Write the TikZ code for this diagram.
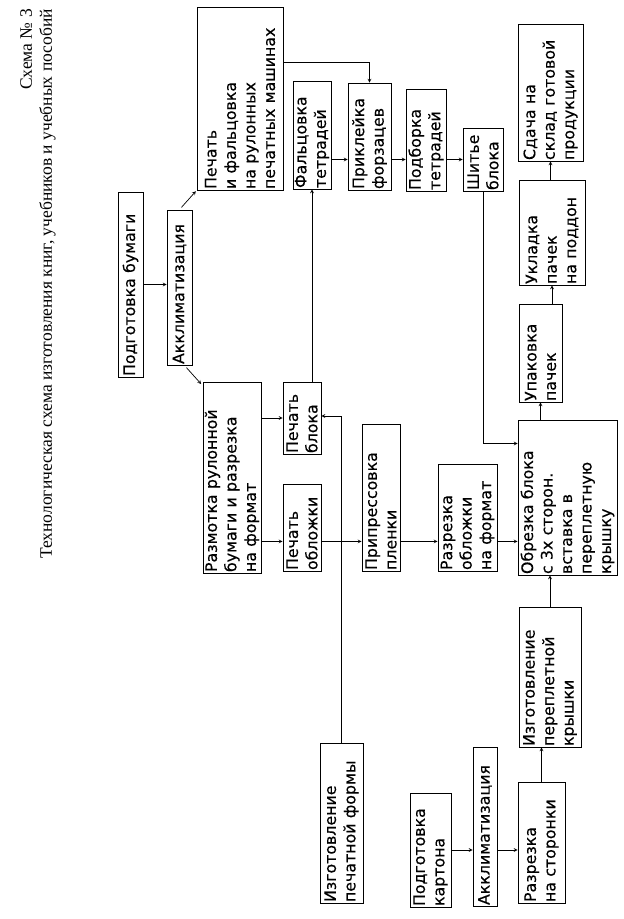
\documentclass[tikz,border=0pt]{standalone}
\usepackage{fontspec}
\setmainfont{Liberation Serif}
\newfontfamily\boxfont[FakeBold=0.3]{DejaVu Sans}
\usepackage{tikz}

\begin{document}
\begin{tikzpicture}[x=1pt, y=-1pt,
    block/.style={rectangle, draw, line width=0.9pt, rotate=90, align=left, inner sep=1pt,
        font=\boxfont\fontsize{15.8}{19.5}\selectfont},
    arrow/.style={->, >=stealth, line width=0.7pt}]
    \useasboundingbox (0,0) rectangle (624,919);

    \node[rotate=90, anchor=north east, align=right, inner sep=0pt,
        font=\fontsize{17.5}{20}\selectfont] (title) at (20,9)
        {Схема № 3\\Технологическая схема изготовления книг, учебников и учебных пособий};

    % paper
    \node[block, text width=183pt, minimum height=25pt] (bum) at (130.5,284.5) {Подготовка бумаги};
    \node[block, text width=153pt, minimum height=25pt] (akl1) at (179.5,287.5) {Акклиматизация};
    \node[block, text width=181pt, minimum height=86pt] (pech) at (240,98.5) {Печать\\и фальцовка\\на рулонных\\печатных машинах};
    \node[block, text width=189pt, minimum height=58pt] (razm) at (232,477.5) {Размотка рулонной\\бумаги и разрезка\\на формат};
    \node[block, text width=70pt, minimum height=38pt] (pbl) at (302,418) {Печать\\блока};
    \node[block, text width=85pt, minimum height=38pt] (pobl) at (302,527.5) {Печать\\обложки};

    % block
    \node[block, text width=106pt, minimum height=38pt] (falc) at (312,135) {Фальцовка\\тетрадей};
    \node[block, text width=105pt, minimum height=43pt] (prikl) at (369.5,136.5) {Приклейка\\форзацев};
    \node[block, text width=100pt, minimum height=40pt] (podb) at (426,140) {Подборка\\тетрадей};
    \node[block, text width=61pt, minimum height=40pt] (shit) at (483,159.5) {Шитье\\блока};

    % cover
    \node[block, text width=145pt, minimum height=38pt] (pripr) at (381,497.5) {Припрессовка\\пленки};
    \node[block, text width=105pt, minimum height=59pt] (razobl) at (467.5,517.5) {Разрезка\\обложки\\на формат};
    \node[block, text width=153pt, minimum height=99pt] (obr) at (567.5,497.5) {Обрезка блока\\с 3х сторон.\\вставка в\\переплетную\\крышку};

    % finishing
    \node[block, text width=96pt, minimum height=43pt] (upak) at (540.5,353) {Упаковка\\пачек};
    \node[block, text width=103pt, minimum height=66pt] (ukl) at (552,232.5) {Укладка\\пачек\\на поддон};
    \node[block, text width=135pt, minimum height=65pt] (sda) at (550.5,92.5) {Сдача на\\склад готовой\\продукции};

    % forms and board
    \node[block, text width=158pt, minimum height=43pt] (forma) at (341.5,823) {Изготовление\\печатной формы};
    \node[block, text width=112pt, minimum height=41pt] (kart) at (430.5,850) {Подготовка\\картона};
    \node[block, text width=157pt, minimum height=24pt] (akl2) at (485,826.5) {Акклиматизация};
    \node[block, text width=119pt, minimum height=47pt] (storon) at (541.5,842.5) {Разрезка\\на сторонки};
    \node[block, text width=138pt, minimum height=62pt] (kryshka) at (550,677) {Изготовление\\переплетной\\крышки};

    \coordinate (lvl) at ([yshift=30pt]pobl.north west);

    \draw[arrow] (bum.south) -- (bum.south -| akl1.north);
    \draw[arrow, shorten <=3pt, shorten >=1pt] (akl1.east) -- (pech.north west);
    \draw[arrow, shorten <=3pt, shorten >=2pt] ([xshift=5pt]akl1.west) -- ([yshift=-4pt]razm.north east);
    \draw[arrow] ([yshift=36pt]pech.south) -| (prikl.east);
    \draw[arrow] (falc.south |- shit.north) -- (prikl.north |- shit.north);
    \draw[arrow] (prikl.south |- shit.north) -- (podb.north |- shit.north);
    \draw[arrow] (podb.south |- shit.north) -- (shit.north);
    \draw[arrow] (falc.west |- pbl.east) -- (falc.west);
    \draw[arrow] (forma.east) |- ([yshift=2pt]pbl.south);
    \draw[arrow] (razm.south |- pbl.north) -- (pbl.north);
    \draw[arrow] (razm.south |- lvl) -- (lvl);
    \draw[arrow] (pobl.south |- lvl) -- (pripr.north |- lvl);
    \draw[arrow] (pripr.south |- lvl) -- (razobl.north |- lvl);
    \draw[arrow] (razobl.south |- lvl) -- (obr.north |- lvl);
    \draw[arrow] (shit.west) |- ([yshift=54pt]obr.north);
    \draw[arrow] (upak.west |- obr.east) -- (upak.west);
    \draw[arrow] (ukl.west |- upak.east) -- (ukl.west);
    \draw[arrow] (sda.west |- ukl.east) -- (sda.west);
    \draw[arrow] (kryshka.east) -- (kryshka.east |- obr.west);
    \draw[arrow] (storon.east) -- (storon.east |- kryshka.west);
    \draw[arrow] (kart.south) -- (kart.south -| akl2.north);
    \draw[arrow] (akl2.south |- kart.south) -- (storon.north |- kart.south);
\end{tikzpicture}
\end{document}
